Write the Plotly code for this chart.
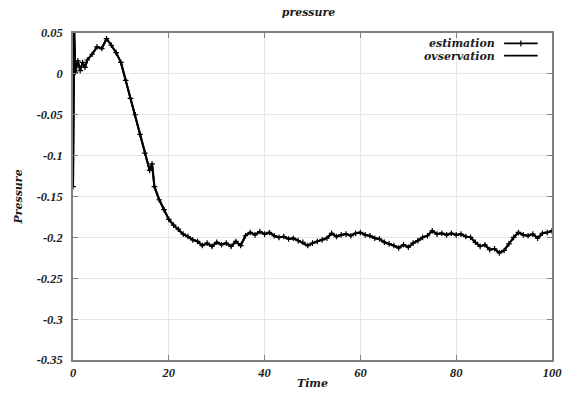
import plotly.graph_objects as go

time = [0, 0.25, 0.5, 1, 1.5, 2, 2.5, 3, 4, 5, 6, 7, 8, 9, 10, 11, 12, 13, 14, 15, 16, 16.5,
        17, 18, 19, 20, 21, 22, 23, 24, 25, 26, 27, 28, 29, 30, 31, 32, 33, 34, 35, 36, 37,
        38, 39, 40, 41, 42, 43, 44, 45, 46, 47, 48, 49, 50, 51, 52, 53, 54, 55, 56, 57, 58,
        59, 60, 61, 62, 63, 64, 65, 66, 67, 68, 69, 70, 71, 72, 73, 74, 75, 76, 77, 78, 79,
        80, 81, 82, 83, 84, 85, 86, 87, 88, 89, 90, 91, 92, 93, 94, 95, 96, 97, 98, 99, 100]

estimation = [-0.138, 0.052, 0.002, 0.016, 0.004, 0.014, 0.008, 0.017, 0.024, 0.033, 0.031,
              0.043, 0.035, 0.026, 0.014, -0.008, -0.030, -0.050, -0.074, -0.097, -0.118,
              -0.110, -0.138, -0.154, -0.166, -0.178, -0.185, -0.190, -0.196, -0.199, -0.203,
              -0.205, -0.210, -0.207, -0.211, -0.206, -0.209, -0.207, -0.211, -0.205, -0.210,
              -0.198, -0.194, -0.197, -0.193, -0.196, -0.194, -0.198, -0.200, -0.199, -0.202,
              -0.201, -0.204, -0.206, -0.210, -0.207, -0.205, -0.203, -0.201, -0.195, -0.199,
              -0.197, -0.196, -0.198, -0.195, -0.194, -0.197, -0.198, -0.201, -0.202, -0.206,
              -0.208, -0.210, -0.213, -0.209, -0.212, -0.207, -0.204, -0.200, -0.198, -0.192,
              -0.196, -0.195, -0.197, -0.195, -0.197, -0.196, -0.199, -0.200, -0.206, -0.211,
              -0.209, -0.215, -0.214, -0.219, -0.216, -0.208, -0.200, -0.194, -0.197, -0.198,
              -0.196, -0.201, -0.195, -0.194, -0.192]

observation = list(estimation)

x_ticks = [0, 20, 40, 60, 80, 100]
y_ticks = [0.05, 0, -0.05, -0.1, -0.15, -0.2, -0.25, -0.3, -0.35]
y_tick_text = ["0.05", "0", "-0.05", "-0.1", "-0.15", "-0.2", "-0.25", "-0.3", "-0.35"]

TICK_FONT = "Liberation Serif"
WORD_FONT = "DejaVu Serif"
tick_font = dict(family=TICK_FONT, size=12.5, color="#1a1a1a", weight="bold", style="italic")
word_font = dict(family=WORD_FONT, size=11, color="#1a1a1a", weight="bold", style="italic")

fig = go.Figure()
fig.add_trace(go.Scatter(x=time, y=observation, mode="lines", name="ovservation",
                         line=dict(color="black", width=2), showlegend=False))
fig.add_trace(go.Scatter(x=time, y=estimation, mode="lines+markers", name="estimation",
                         line=dict(color="black", width=2),
                         marker=dict(symbol="cross-thin", size=4, line=dict(color="black", width=1.2)),
                         showlegend=False))

axis_common = dict(showline=True, linecolor="#808080", linewidth=1.5, mirror="allticks",
                   ticks="inside", ticklen=5, tickcolor="#808080", tickwidth=1,
                   showgrid=True, gridcolor="#e6e6e6", gridwidth=1, zeroline=False,
                   tickfont=tick_font, automargin=False)

fig.update_xaxes(range=[0, 100], tickvals=x_ticks, **axis_common,
                 title=dict(text="Time", font=word_font, standoff=1))
fig.update_yaxes(range=[-0.35, 0.05], tickvals=y_ticks, ticktext=y_tick_text, **axis_common,
                 ticklabelstandoff=6,
                 title=dict(text="Pressure", font=word_font, standoff=12))

# legend drawn as text + line samples (gnuplot style: text on the left, sample on the right)
fig.add_annotation(xref="paper", yref="paper", x=0.884, y=0.968, text="estimation",
                   showarrow=False, xanchor="right", yanchor="middle", font=word_font,
                   borderpad=0, height=12)
fig.add_annotation(xref="paper", yref="paper", x=0.884, y=0.931, text="ovservation",
                   showarrow=False, xanchor="right", yanchor="middle", font=word_font,
                   borderpad=0, height=12)
fig.add_shape(type="line", xref="paper", yref="paper", x0=0.9, x1=0.97, y0=0.968, y1=0.968,
              line=dict(color="black", width=1.8))
fig.add_shape(type="line", xref="paper", yref="paper", x0=0.935, x1=0.935, y0=0.959, y1=0.977,
              line=dict(color="black", width=1.2))
fig.add_shape(type="line", xref="paper", yref="paper", x0=0.9, x1=0.97, y0=0.931, y1=0.931,
              line=dict(color="black", width=1.8))

fig.update_layout(
    width=563, height=397,
    margin=dict(l=73, r=11, t=33, b=37, autoexpand=False),
    paper_bgcolor="white", plot_bgcolor="white",
    title=dict(text="pressure", x=0.548, xanchor="center", y=0.97, yanchor="middle",
               font=word_font),
    showlegend=False,
)

fig.write_html("out.html")
